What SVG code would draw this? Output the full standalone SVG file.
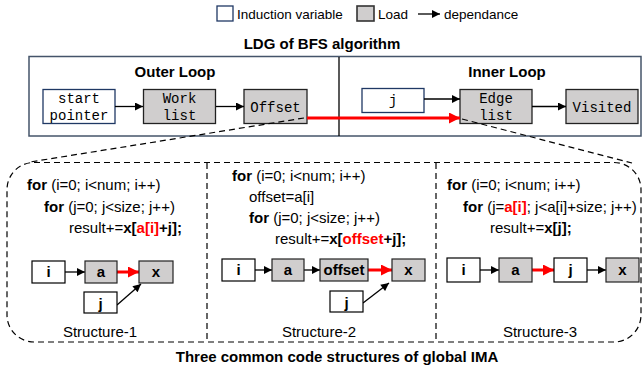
<svg xmlns="http://www.w3.org/2000/svg" width="643" height="371" viewBox="0 0 643 371">
<style>
text{font-family:"Liberation Sans",Arial,sans-serif;fill:#000}
.b{font-weight:bold}
.mono{font-family:"Liberation Mono","DejaVu Sans Mono",monospace;font-size:14px}
.code{font-size:15px}
.lbl{font-size:15px;font-weight:bold;text-anchor:middle}
.ind{fill:#fff;stroke:#1f3864;stroke-width:1.3}
.load{fill:#d0cece;stroke:#222;stroke-width:1.3}
.sind{fill:#fff;stroke:#000;stroke-width:1.2}
.sload{fill:#d0cece;stroke:#222;stroke-width:1.2}
.arr{stroke:#000;stroke-width:1.3;fill:none;marker-end:url(#ah)}
.rarr{stroke:#ff0000;stroke-width:3;fill:none;marker-end:url(#rah)}
.dash{stroke:#000;stroke-width:1.2;fill:none;stroke-dasharray:6 4}
.red{fill:#ff0000}
</style>
<defs>
<marker id="ah" viewBox="0 0 10 10" refX="10" refY="5" markerWidth="9" markerHeight="8" orient="auto" markerUnits="userSpaceOnUse"><path d="M0,0L10,5L0,10z" fill="#000"/></marker>
<marker id="rah" viewBox="0 0 10 10" refX="10" refY="5" markerWidth="12" markerHeight="11" orient="auto" markerUnits="userSpaceOnUse"><path d="M0,0L10,5L0,10z" fill="#ff0000"/></marker>
</defs>

<g id="legend">
<rect x="217" y="6" width="16" height="15" class="ind"/>
<text x="237" y="19" font-size="13.5">Induction variable</text>
<rect x="357" y="6" width="17" height="15" fill="#d0cece" stroke="#333" stroke-width="1.6"/>
<text x="378" y="19" font-size="13.5">Load</text>
<line x1="418" y1="14" x2="440" y2="14" class="arr"/>
<text x="444" y="19" font-size="13.5">dependance</text>
</g>

<text x="322" y="49" font-size="15" class="b" text-anchor="middle">LDG of BFS algorithm</text>

<g id="ldg-frame">
<rect x="29" y="56.5" width="612" height="79.5" fill="none" stroke="#44546a" stroke-width="1.5"/>
<line x1="339" y1="57" x2="339" y2="136" stroke="#000" stroke-width="1.3"/>
<text x="175" y="77" font-size="15" class="b" text-anchor="middle">Outer Loop</text>
<text x="507" y="77" font-size="15" class="b" text-anchor="middle">Inner Loop</text>
</g>

<g id="start-pointer">
<rect x="43" y="89.5" width="72" height="34" class="ind"/>
<text x="79" y="103" class="mono" text-anchor="middle">start</text>
<text x="79" y="120" class="mono" text-anchor="middle">pointer</text>
</g>
<g id="work-list">
<rect x="143.5" y="89.5" width="72" height="34" class="load"/>
<text x="179.5" y="103" class="mono" text-anchor="middle">Work</text>
<text x="179.5" y="120" class="mono" text-anchor="middle">list</text>
</g>
<g id="offset">
<rect x="244" y="89.5" width="63" height="34" class="load"/>
<text x="275.5" y="112" class="mono" text-anchor="middle">Offset</text>
</g>
<g id="j-top">
<rect x="362" y="88.5" width="62" height="24" class="ind"/>
<text x="393" y="105" class="mono" text-anchor="middle">j</text>
</g>
<g id="edge-list">
<rect x="460" y="89.5" width="72" height="34" class="load"/>
<text x="496" y="103" class="mono" text-anchor="middle">Edge</text>
<text x="496" y="120" class="mono" text-anchor="middle">list</text>
</g>
<g id="visited">
<rect x="566" y="89.5" width="72" height="34" class="load"/>
<text x="602" y="112" class="mono" text-anchor="middle">Visited</text>
</g>

<g id="connectors">
<line x1="115" y1="106.5" x2="143" y2="106.5" class="arr"/>
<line x1="216" y1="106.5" x2="244" y2="106.5" class="arr"/>
<line x1="424" y1="99" x2="460" y2="99" class="arr"/>
<line x1="532" y1="106.5" x2="566" y2="106.5" class="arr"/>
<line x1="307" y1="118" x2="460" y2="118" class="rarr"/>
<line x1="304" y1="118" x2="30" y2="162" class="dash"/>
<line x1="462" y1="119" x2="632" y2="163" class="dash"/>
<!-- structure 1 -->
<line x1="65" y1="272" x2="85" y2="272" class="arr"/>
<line x1="117" y1="272" x2="139" y2="272" class="rarr"/>
<line x1="117" y1="305" x2="141" y2="284" class="arr"/>
<!-- structure 2 -->
<line x1="255" y1="270" x2="272" y2="270" class="arr"/>
<line x1="304" y1="270" x2="320" y2="270" class="arr"/>
<line x1="368" y1="270" x2="392" y2="270" class="rarr"/>
<line x1="363" y1="303" x2="389" y2="283" class="arr"/>
<!-- structure 3 -->
<line x1="480" y1="270" x2="499" y2="270" class="arr"/>
<line x1="532" y1="270" x2="554" y2="270" class="rarr"/>
<line x1="587" y1="270" x2="606" y2="270" class="arr"/>
</g>

<g id="structures-frame">
<rect x="7" y="162.5" width="634" height="179.5" rx="27" ry="27" class="dash"/>
<line x1="207" y1="163" x2="207" y2="342" class="dash"/>
<line x1="436" y1="163" x2="436" y2="342" class="dash"/>
</g>

<g id="structure-1">
<text x="27" y="190" class="code"><tspan class="b">for</tspan> (i=0; i&lt;num; i++)</text>
<text x="44" y="211.5" class="code"><tspan class="b">for</tspan> (j=0; j&lt;size; j++)</text>
<text x="69" y="233" class="code">result+=<tspan class="b">x[</tspan><tspan class="b red">a[i]</tspan><tspan class="b">+j];</tspan></text>
<rect x="32" y="261" width="33" height="22" class="sind"/><text x="48.5" y="277" class="lbl">i</text>
<rect x="85" y="261" width="32" height="22" class="sload"/><text x="101" y="277" class="lbl">a</text>
<rect x="139" y="261" width="34" height="22" class="sload"/><text x="156" y="277" class="lbl">x</text>
<rect x="84" y="292" width="33" height="21" class="sind"/><text x="100.5" y="309" class="lbl">j</text>
<text x="100" y="337" font-size="15" text-anchor="middle">Structure-1</text>
</g>

<g id="structure-2">
<text x="232" y="181" class="code"><tspan class="b">for</tspan> (i=0; i&lt;num; i++)</text>
<text x="249" y="202" class="code">offset=a[i]</text>
<text x="249" y="223" class="code"><tspan class="b">for</tspan> (j=0; j&lt;size; j++)</text>
<text x="275" y="244" class="code">result+=<tspan class="b">x[</tspan><tspan class="b red">offset</tspan><tspan class="b">+j];</tspan></text>
<rect x="222" y="259" width="33" height="22" class="sind"/><text x="238.5" y="275" class="lbl">i</text>
<rect x="272" y="259" width="32" height="22" class="sload"/><text x="288" y="275" class="lbl">a</text>
<rect x="320" y="259" width="48" height="22" class="sload"/><text x="344" y="275" class="lbl">offset</text>
<rect x="392" y="259" width="33" height="22" class="sload"/><text x="408.5" y="275" class="lbl">x</text>
<rect x="330" y="291" width="33" height="21" class="sind"/><text x="346.5" y="308" class="lbl">j</text>
<text x="319" y="337" font-size="15" text-anchor="middle">Structure-2</text>
</g>

<g id="structure-3">
<text x="447" y="190" class="code"><tspan class="b">for</tspan> (i=0; i&lt;num; i++)</text>
<text x="463" y="212" class="code"><tspan class="b">for</tspan> (j=<tspan class="b red">a[i]</tspan>; j&lt;a[i]+size; j++)</text>
<text x="490" y="233" class="code">result+=<tspan class="b">x[j];</tspan></text>
<rect x="447" y="258" width="33" height="24" class="sind"/><text x="463.5" y="275" class="lbl">i</text>
<rect x="499" y="258" width="33" height="24" class="sload"/><text x="515.5" y="275" class="lbl">a</text>
<rect x="554" y="258" width="33" height="24" class="sind"/><text x="570.5" y="275" class="lbl">j</text>
<rect x="606" y="258" width="33" height="24" class="sload"/><text x="622.5" y="275" class="lbl">x</text>
<text x="540" y="337" font-size="15" text-anchor="middle">Structure-3</text>
</g>

<text x="337" y="362" font-size="15" class="b" text-anchor="middle">Three common code structures of global IMA</text>
</svg>
